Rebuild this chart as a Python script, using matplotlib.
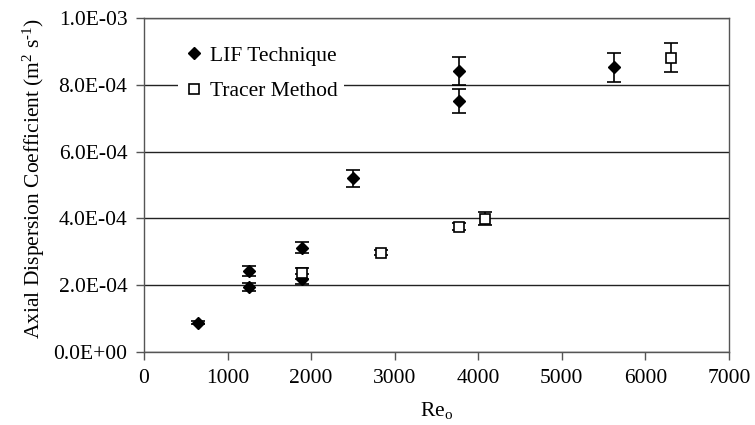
import matplotlib
matplotlib.use("Agg")
import matplotlib.pyplot as plt
from matplotlib.ticker import FuncFormatter, MultipleLocator

plt.rcParams['font.family'] = ['Liberation Serif', 'DejaVu Serif']
plt.rcParams['mathtext.fontset'] = 'custom'
plt.rcParams['mathtext.rm'] = 'Liberation Serif'
plt.rcParams['mathtext.it'] = 'Liberation Serif:italic'

# LIF Technique
lif_re = [642, 1256, 1256, 1890, 1890, 2500, 3770, 3770, 5625]
lif_d = [8.8e-5, 2.43e-4, 1.95e-4, 3.12e-4, 2.19e-4, 5.2e-4, 8.42e-4, 7.52e-4, 8.52e-4]
lif_err = [5e-6, 1.5e-5, 1.3e-5, 1.6e-5, 1.5e-5, 2.6e-5, 4.2e-5, 3.6e-5, 4.3e-5]

# Tracer Method
tr_re = [1890, 2838, 3770, 4080, 6305]
tr_d = [2.36e-4, 2.97e-4, 3.75e-4, 3.99e-4, 8.81e-4]
tr_err = [1.6e-5, 8e-6, 1.1e-5, 2.0e-5, 4.3e-5]

FS = 15.5

fig = plt.figure(figsize=(7.55, 4.25), dpi=100)
ax = fig.add_axes([0.1907, 0.1718, 0.7749, 0.7858])

ax.errorbar(lif_re, lif_d, yerr=lif_err, fmt='D', color='black', ms=6.5,
            ecolor='black', elinewidth=1.2, capsize=5, capthick=1.2,
            label='LIF Technique', zorder=3)
ax.errorbar(tr_re, tr_d, yerr=tr_err, fmt='s', mfc='white', mec='black', mew=1.2,
            ms=7, ecolor='black', elinewidth=1.2, capsize=5, capthick=1.2,
            label='Tracer Method', zorder=3)

ax.set_xlim(0, 7000)
ax.set_ylim(0, 1.0e-3)
ax.xaxis.set_major_locator(MultipleLocator(1000))
ax.yaxis.set_major_locator(MultipleLocator(2e-4))
ax.yaxis.set_major_formatter(FuncFormatter(lambda v, p: '%.1E' % v))
ax.yaxis.grid(True, color='#222222', linewidth=1.0)
ax.set_axisbelow(True)

for s in ax.spines.values():
    s.set_color('#555555')
    s.set_linewidth(1.0)
ax.tick_params(axis='both', direction='out', length=6, width=1.0, color='#555555',
               labelsize=FS, pad=6)

ax.set_xlabel(r'Re$_\mathrm{o}$', fontsize=FS, labelpad=9)
ax.set_ylabel(r'Axial Dispersion Coefficient (m$^\mathrm{2}$ s$^{\text{-}\mathrm{1}}$)',
              fontsize=FS, labelpad=6)
ax.yaxis.set_label_coords(-0.166, 0.52)

handles, labels = ax.get_legend_handles_labels()
handles = [h[0] for h in handles]
leg = ax.legend(handles, labels, loc='upper left', bbox_to_anchor=(0.04, 0.965),
                frameon=True, fontsize=FS, handletextpad=0.25, handlelength=1.0,
                borderpad=0.25, labelspacing=0.7, fancybox=False)
leg.get_frame().set_edgecolor('none')
leg.get_frame().set_facecolor('white')
leg.get_frame().set_alpha(1)

fig.savefig('out.png', dpi=100)
